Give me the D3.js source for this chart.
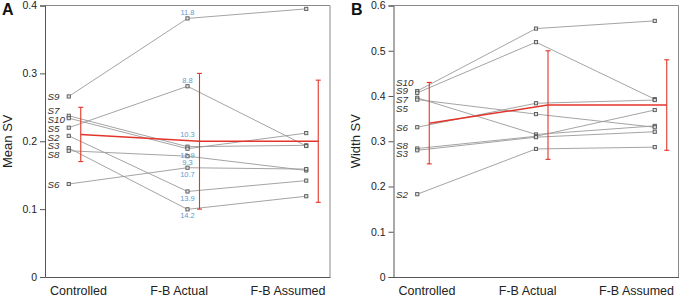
<!DOCTYPE html>
<html>
<head>
<meta charset="utf-8">
<script src="https://cdn.jsdelivr.net/npm/d3@7"></script>
<style>
  body { margin: 0; background: #fff; }
  svg { font-family: "Liberation Sans", Arial, sans-serif; }
</style>
</head>
<body>
<svg id="chart" width="679" height="299"></svg>
<script>
var categories = ["Controlled", "F-B Actual", "F-B Assumed"];

// panel A: mean SV per subject
var subjectsA = ["S9", "S7", "S10", "S5", "S2", "S3", "S8", "S6"];
var meanSVControlled = [0.266, 0.2375, 0.234, 0.220, 0.208, 0.190, 0.186, 0.137];
var meanSVActual = [0.381, 0.192, 0.189, 0.281, 0.126, 0.0997, 0.178, 0.161];
var meanSVAssumed = [0.395, 0.194, 0.212, 0.193, 0.142, 0.119, 0.157, 0.159];
var actualLabels = ["11.8", "10.3", "12.9", "8.8", "13.9", "14.2", "9.3", "10.7"];
var actualLabelSide = ["above", "above", "below", "above", "below", "below", "below", "below"];
var meanSVMean = [0.21, 0.20, 0.20];
var meanSVLow = [0.17, 0.10, 0.11];
var meanSVHigh = [0.25, 0.30, 0.29];
var meanSVTicks = [0, 0.1, 0.2, 0.3, 0.4];

// panel B: width SV per subject
var subjectsB = ["S10", "S9", "S7", "S5", "S6", "S8", "S3", "S2"];
var widthSVControlled = [0.411, 0.407, 0.396, 0.392, 0.331, 0.284, 0.280, 0.183];
var widthSVActual = [0.549, 0.519, 0.315, 0.360, 0.384, 0.311, 0.309, 0.283];
var widthSVAssumed = [0.566, 0.393, 0.334, 0.331, 0.391, 0.369, 0.321, 0.287];
var widthSVMean = [0.34, 0.38, 0.38];
var widthSVLow = [0.25, 0.26, 0.28];
var widthSVHigh = [0.43, 0.50, 0.48];
var widthSVTicks = [0, 0.1, 0.2, 0.3, 0.4, 0.5, 0.6];

var red = "#e3342a";
var svg = d3.select("#chart");

drawPanel({
    letter: "A", title: "Mean SV", left: 45, letterX: 2, titleX: 12,
    yMax: 0.4, ticks: meanSVTicks, subjects: subjectsA,
    values: [meanSVControlled, meanSVActual, meanSVAssumed],
    mean: meanSVMean, low: meanSVLow, high: meanSVHigh,
    labels: actualLabels, labelSide: actualLabelSide
});
drawPanel({
    letter: "B", title: "Width SV", left: 393.5, letterX: 351, titleX: 360,
    yMax: 0.6, ticks: widthSVTicks, subjects: subjectsB,
    values: [widthSVControlled, widthSVActual, widthSVAssumed],
    mean: widthSVMean, low: widthSVLow, high: widthSVHigh
});

function drawPanel(p) {
    var w = 285, top = 5.5, bottom = 277;
    var g = svg.append("g").attr("transform", "translate(" + p.left + ",0)");

    var x = d3.scalePoint().domain(categories).range([0, w]).padding(0.2);
    // category names are left aligned on their own, narrower spacing
    var xLab = d3.scalePoint().domain(categories).range([5, 205.5]);
    var y = d3.scaleLinear().domain([0, p.yMax]).range([bottom, top]);
    var off = 12; // error bars sit a bit right of the category

    // frame
    g.append("path")
        .attr("d", "M0," + top + "H" + w + "V" + bottom)
        .attr("fill", "none").attr("stroke", "#8a8a8a").attr("stroke-width", 1);

    var ya = g.append("g")
        .call(d3.axisLeft(y).tickValues(p.ticks).tickSize(5).tickPadding(3)
            .tickFormat(function (d) { return d === 0 ? "0" : d3.format(".1f")(d); }));
    ya.selectAll("text").attr("font-size", 10.5).attr("fill", "#222").attr("font-family", null);
    ya.selectAll("line, path").attr("stroke", "#555");

    var xa = g.append("g").attr("transform", "translate(0," + bottom + ")")
        .call(d3.axisBottom(x).tickSize(0).tickPadding(9));
    xa.selectAll("path").attr("stroke", "#555");
    xa.selectAll(".tick").attr("transform", function (d) { return "translate(" + xLab(d) + ",0)"; });
    xa.selectAll("text").attr("text-anchor", "start")
        .attr("font-size", 12.5).attr("fill", "#222").attr("font-family", null);

    svg.append("text").text(p.letter)
        .attr("x", p.letterX).attr("y", 15)
        .attr("font-size", 16).attr("font-weight", "bold").attr("fill", "#111");

    svg.append("text").text(p.title)
        .attr("transform", "translate(" + p.titleX + "," + ((top + bottom) / 2) + ") rotate(-90)")
        .attr("text-anchor", "middle").attr("font-size", 13).attr("fill", "#222");

    // subject lines
    var rows = p.subjects.map(function (s, i) {
        return { name: s, vals: p.values.map(function (arr) { return arr[i]; }) };
    });
    var line = d3.line()
        .x(function (d, i) { return x(categories[i]); })
        .y(function (d) { return y(d); });

    g.selectAll(".subj").data(rows).enter().append("path")
        .attr("class", "subj")
        .attr("d", function (d) { return line(d.vals); })
        .attr("fill", "none").attr("stroke", "#9a9a9a").attr("stroke-width", 0.9);

    var pts = [];
    rows.forEach(function (r, i) {
        r.vals.forEach(function (v, j) { pts.push({ c: categories[j], v: v }); });
    });
    g.selectAll(".pt").data(pts).enter().append("rect")
        .attr("class", "pt")
        .attr("x", function (d) { return x(d.c) - 1.6; })
        .attr("y", function (d) { return y(d.v) - 1.6; })
        .attr("width", 3.2).attr("height", 3.2)
        .attr("fill", "#e0e0e0").attr("stroke", "#555").attr("stroke-width", 0.9);

    // subject names, spread so they don't overlap
    var labs = rows.map(function (r) { return { name: r.name, y: y(r.vals[0]) }; });
    labs.sort(function (a, b) { return a.y - b.y; });
    var gap = 8.8;
    for (var it = 0; it < 200; it++) {
        for (var k = 1; k < labs.length; k++) {
            var d = labs[k].y - labs[k - 1].y;
            if (d < gap) {
                labs[k].y += (gap - d) / 2;
                labs[k - 1].y -= (gap - d) / 2;
            }
        }
    }
    g.selectAll(".sname").data(labs).enter().append("text")
        .attr("class", "sname")
        .attr("x", 2.5).attr("y", function (d) { return d.y; })
        .attr("dy", "0.36em")
        .attr("font-size", 9.8).attr("font-style", "italic").attr("fill", "#333")
        .text(function (d) { return d.name; });

    // blue labels on the actual condition
    if (p.labels) {
        var meanY = y(p.mean[1]);
        var lab = rows.map(function (r, i) {
            var ly = y(r.vals[1]) + (p.labelSide[i] === "above" ? -6 : 6.5);
            // keep clear of the red mean line
            if (p.labelSide[i] === "above" && Math.abs(ly - meanY) < 5) ly = meanY - 7;
            return { t: p.labels[i], y: ly };
        });
        g.selectAll(".alab").data(lab).enter().append("text")
            .attr("class", "alab")
            .attr("x", x(categories[1]))
            .attr("y", function (d) { return d.y; })
            .attr("dy", "0.35em")
            .attr("text-anchor", "middle").attr("font-size", 7.5).attr("fill", "#5b9bd0")
            .text(function (d) { return d.t; });
    }

    // mean with error bars
    var m = categories.map(function (c, i) {
        return { c: c, mean: p.mean[i], low: p.low[i], high: p.high[i] };
    });
    g.selectAll(".err").data(m).enter().append("line")
        .attr("class", "err")
        .attr("x1", function (d) { return x(d.c) + off; })
        .attr("x2", function (d) { return x(d.c) + off; })
        .attr("y1", function (d) { return y(d.low); })
        .attr("y2", function (d) { return y(d.high); })
        .attr("stroke", red).attr("stroke-width", 1.1);
    ["low", "high"].forEach(function (key) {
        g.selectAll(".cap-" + key).data(m).enter().append("line")
            .attr("x1", function (d) { return x(d.c) + off - 2.5; })
            .attr("x2", function (d) { return x(d.c) + off + 2.5; })
            .attr("y1", function (d) { return y(d[key]); })
            .attr("y2", function (d) { return y(d[key]); })
            .attr("stroke", red).attr("stroke-width", 1.1);
    });
    g.append("path")
        .attr("d", d3.line()
            .x(function (d) { return x(d.c) + off; })
            .y(function (d) { return y(d.mean); })(m))
        .attr("fill", "none").attr("stroke", red).attr("stroke-width", 1.5);
}
</script>
</body>
</html>
